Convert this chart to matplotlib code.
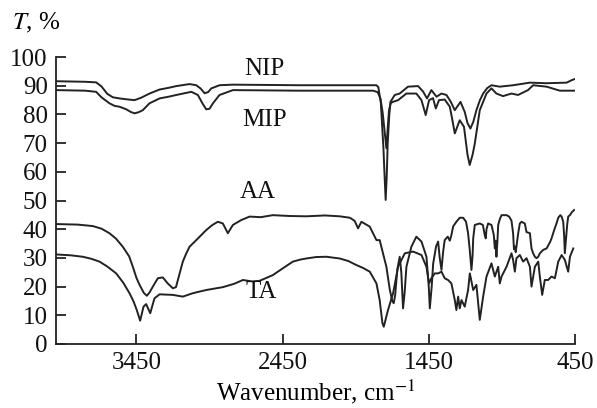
import matplotlib
matplotlib.use('Agg')
import matplotlib.pyplot as plt

plt.rcParams['font.family'] = ['Liberation Serif', 'DejaVu Serif']
plt.rcParams['mathtext.fontset'] = 'stix'

# NIP spectrum
nip_wn = [4000, 3800, 3726, 3690, 3650, 3612, 3566, 3520, 3464, 3420, 3361, 3292, 3230,
          3178, 3087, 3041, 3010, 2984, 2960, 2938, 2882, 2790, 2334, 2060, 1808, 1795,
          1778, 1760, 1752, 1745, 1738, 1731, 1720, 1712, 1683, 1649, 1592, 1523, 1489,
          1462, 1432, 1397, 1363, 1329, 1300, 1272, 1233, 1204, 1185, 1165, 1145, 1124,
          1100, 1078, 1050, 1021, 964, 873, 758, 644, 507, 470, 455]
nip_t = [91.6, 91.4, 91.2, 89.8, 87.2, 86.0, 85.6, 85.3, 85.0, 85.8, 87.3, 88.7, 89.3,
         89.9, 90.6, 90.2, 89.0, 87.4, 87.8, 89.1, 90.2, 90.4, 90.2, 90.2, 90.2, 89.5,
         84.0, 68.0, 58.0, 50.2, 58.0, 70.0, 80.0, 84.4, 86.8, 87.3, 89.7, 89.9, 88.0,
         85.6, 88.5, 86.2, 87.3, 86.8, 84.5, 81.5, 84.4, 80.9, 77.0, 75.1, 77.5, 81.5,
         85.0, 87.3, 89.2, 90.2, 89.7, 90.2, 91.1, 90.9, 91.1, 92.0, 92.3]

# MIP spectrum
mip_wn = [4000, 3800, 3726, 3690, 3635, 3600, 3566, 3520, 3490, 3464, 3435, 3407, 3361,
          3292, 3230, 3178, 3075, 3030, 3000, 2973, 2950, 2927, 2882, 2790, 2334, 2060,
          1831, 1800, 1780, 1765, 1752, 1740, 1730, 1722, 1710, 1695, 1660, 1603, 1535,
          1500, 1471, 1448, 1421, 1402, 1380, 1341, 1306, 1290, 1272, 1238, 1209, 1185,
          1170, 1150, 1135, 1101, 1055, 1021, 987, 942, 884, 839, 771, 736, 644, 553, 455]
mip_t = [88.5, 88.3, 87.9, 86.0, 83.9, 83.0, 82.7, 81.8, 80.9, 80.4, 80.8, 81.5, 83.9,
         85.6, 86.2, 86.8, 87.9, 86.8, 84.0, 81.8, 82.0, 83.9, 86.8, 88.5, 88.3, 88.3,
         88.3, 87.8, 85.5, 80.4, 74.0, 68.2, 76.0, 81.5, 84.0, 84.4, 85.0, 87.3, 87.3,
         85.0, 79.8, 85.0, 85.7, 82.1, 85.0, 85.2, 82.7, 78.5, 73.4, 78.0, 75.7, 66.0,
         62.4, 66.0, 69.9, 81.5, 87.3, 89.1, 87.3, 86.4, 87.3, 86.8, 88.5, 90.2, 89.7,
         88.3, 88.3]

# AA spectrum
aa_wn = [4000, 3850, 3749, 3690, 3635, 3590, 3544, 3500, 3475, 3450, 3429, 3400, 3379,
         3360, 3338, 3304, 3270, 3236, 3201, 3180, 3167, 3150, 3133, 3110, 3087, 3041,
         2973, 2930, 2893, 2859, 2825, 2790, 2733, 2676, 2600, 2517, 2400, 2288, 2160,
         2060, 1990, 1957, 1934, 1911, 1854, 1808, 1786, 1763, 1740, 1717, 1700, 1690,
         1680, 1665, 1649, 1638, 1626, 1615, 1603, 1569, 1535, 1500, 1466, 1450, 1443,
         1430, 1420, 1400, 1386, 1375, 1363, 1352, 1341, 1320, 1306, 1295, 1283, 1261,
         1238, 1215, 1195, 1181, 1170, 1158, 1150, 1146, 1135, 1101, 1080, 1067, 1060,
         1055, 1044, 1021, 1005, 998, 993, 987, 980, 975, 964, 952, 918, 900, 884, 873,
         867, 861, 855, 850, 838, 827, 815, 793, 781, 758, 747, 736, 724, 713, 701, 690,
         667, 644, 620, 610, 590, 576, 564, 550, 541, 530, 524, 519, 512, 503, 496, 484,
         470, 455]
aa_t = [41.8, 41.6, 41.1, 40.2, 38.6, 36.7, 33.9, 30.5, 26.9, 23.0, 20.6, 17.8, 16.8,
        18.0, 20.0, 22.9, 23.2, 21.1, 19.4, 19.8, 22.3, 25.5, 28.7, 31.5, 33.9, 36.2,
        39.7, 41.5, 42.6, 42.0, 38.6, 41.5, 43.2, 44.4, 44.2, 44.9, 44.6, 44.5, 44.8,
        44.5, 44.0, 42.9, 40.3, 42.6, 40.9, 36.2, 36.2, 31.6, 26.9, 19.0, 15.0, 14.2,
        17.0, 26.0, 30.4, 25.0, 12.4, 18.0, 26.9, 33.9, 37.4, 35.7, 30.4, 20.0, 12.4,
        20.0, 28.0, 34.0, 35.7, 30.0, 25.8, 32.0, 36.2, 37.4, 36.0, 38.0, 41.0, 42.6,
        44.0, 44.0, 42.6, 38.6, 33.0, 25.8, 31.0, 36.8, 41.5, 42.0, 41.5, 38.0, 36.8,
        40.0, 42.0, 41.5, 38.0, 33.3, 36.0, 30.4, 36.0, 41.5, 43.5, 44.9, 44.9, 44.4,
        43.0, 38.6, 33.0, 34.0, 32.0, 34.0, 38.6, 42.0, 42.6, 42.0, 39.0, 38.6, 33.3,
        31.6, 30.4, 29.9, 30.4, 31.6, 32.8, 33.3, 35.5, 36.8, 40.0, 42.0, 44.0, 44.9,
        44.4, 42.6, 38.0, 31.6, 36.0, 41.5, 44.4, 44.9, 46.0, 46.7]

# TA spectrum
ta_wn = [4000, 3900, 3818, 3760, 3703, 3650, 3589, 3540, 3498, 3470, 3448, 3425, 3402,
         3384, 3356, 3327, 3292, 3201, 3133, 3064, 2973, 2859, 2780, 2722, 2660, 2608,
         2517, 2448, 2380, 2330, 2288, 2220, 2151, 2060, 2000, 1945, 1900, 1854, 1808,
         1786, 1767, 1758, 1729, 1694, 1660, 1614, 1557, 1500, 1466, 1448, 1432, 1409,
         1386, 1363, 1341, 1318, 1295, 1272, 1261, 1249, 1238, 1226, 1204, 1181, 1169,
         1146, 1124, 1101, 1078, 1055, 1021, 998, 975, 964, 952, 918, 884, 873, 861, 850,
         827, 804, 781, 758, 747, 724, 701, 690, 674, 656, 633, 610, 587, 564, 541, 519,
         496, 484, 461]
ta_t = [31.2, 30.9, 30.4, 29.7, 28.7, 27.0, 24.6, 21.3, 17.7, 14.8, 11.8, 8.1, 13.0,
        13.9, 10.7, 15.9, 17.3, 17.1, 16.5, 17.7, 18.8, 19.8, 21.0, 22.3, 21.8, 22.0,
        24.0, 26.4, 28.7, 29.4, 29.8, 30.3, 30.4, 29.8, 28.9, 27.5, 26.5, 25.2, 21.1,
        15.3, 7.2, 6.0, 11.8, 17.7, 26.9, 31.6, 32.2, 31.0, 26.9, 21.1, 22.9, 24.6,
        24.6, 25.2, 22.9, 22.3, 21.1, 15.3, 11.8, 16.5, 12.4, 15.3, 13.0, 18.8, 24.6,
        18.8, 20.6, 8.4, 16.5, 23.5, 28.1, 23.5, 26.9, 21.1, 23.5, 26.9, 31.6, 29.3,
        25.2, 29.9, 31.0, 28.7, 29.9, 26.9, 20.0, 26.9, 28.7, 23.5, 17.1, 22.3, 22.3,
        23.5, 22.9, 28.7, 31.0, 29.3, 25.2, 30.4, 33.3]

labels = ['NIP', 'MIP', 'AA', 'TA']
label_pos = [(2573, 96), (2573, 78), (2621, 53), (2594, 18)]

fig = plt.figure(figsize=(5.97, 4.08), dpi=100)
ax = fig.add_axes([0.094, 0.157, 0.869, 0.703])

col = '#222222'
for wn, t in [(nip_wn, nip_t), (mip_wn, mip_t), (aa_wn, aa_t), (ta_wn, ta_t)]:
    ax.plot(wn, t, color=col, lw=1.4, solid_joinstyle='round')

for lab, (x, y) in zip(labels, label_pos):
    ax.text(x, y, lab, fontsize=18, ha='center', va='center', color='#111111')

ax.set_xlim(4000, 450)
ax.set_ylim(0, 100)
ax.set_xticks([3450, 2450, 1450, 450])
ax.set_yticks(range(0, 101, 10))
ax.tick_params(direction='in', length=7, width=1.2, labelsize=18, pad=6, colors='#111111')
for s in ['top', 'right']:
    ax.spines[s].set_visible(False)
for s in ['left', 'bottom']:
    ax.spines[s].set_linewidth(1.3)
    ax.spines[s].set_color('#222222')

fig.text(0.02, 0.944, '$T$, %', fontsize=18, ha='left', va='center')
fig.text(0.528, 0.04, 'Wavenumber, cm$^{-1}$', fontsize=18, ha='center', va='center')

fig.savefig('out.png', dpi=100)
